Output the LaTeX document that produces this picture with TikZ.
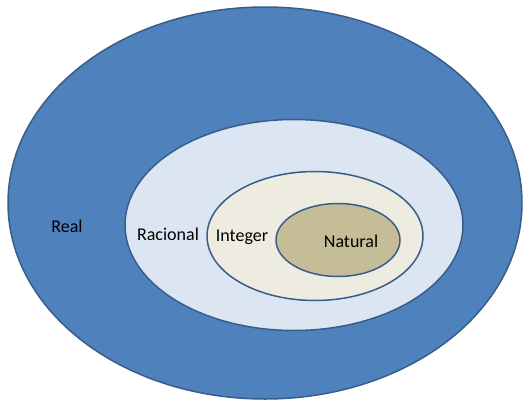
\documentclass[tikz,border=0pt]{standalone}
\usepackage{fontspec}
\setmainfont{Carlito}
\usepackage{tikz}
\usetikzlibrary{shapes.geometric, positioning}
\definecolor{realblue}{HTML}{4F81BD}
\definecolor{racblue}{HTML}{DCE6F2}
\definecolor{intbeige}{HTML}{EEECE1}
\definecolor{natkhaki}{HTML}{C4BD97}
\definecolor{rimblue}{HTML}{385D8A}

\begin{document}
\begin{tikzpicture}[x=1pt, y=-1pt,
  set/.style = {ellipse, draw=rimblue, line width=1.5pt, inner sep=0pt},
  setname/.style = {font=\fontsize{18}{21}\selectfont, text=black}]
  \useasboundingbox (0,0) rectangle (523,400);
  \node[set, fill=realblue, minimum width=514pt, minimum height=392pt] (real) at (265,203) {};
  \node[set, fill=racblue, minimum width=338pt, minimum height=211pt] (racional) at (294,225) {};
  \node[set, fill=intbeige, minimum width=216pt, minimum height=129pt] (integer) at (315,236) {};
  \node[set, fill=natkhaki, minimum width=124pt, minimum height=73pt] (natural) at (338,240) {};
  % set names
  \node[setname] (lreal) at (67,226) {Real};
  \node[setname] (lracional) at (168,234) {Racional};
  \node[setname] (linteger) at (242,237) {Integer};
  \node[setname] (lnatural) at (351,241) {Natural};
\end{tikzpicture}
\end{document}
